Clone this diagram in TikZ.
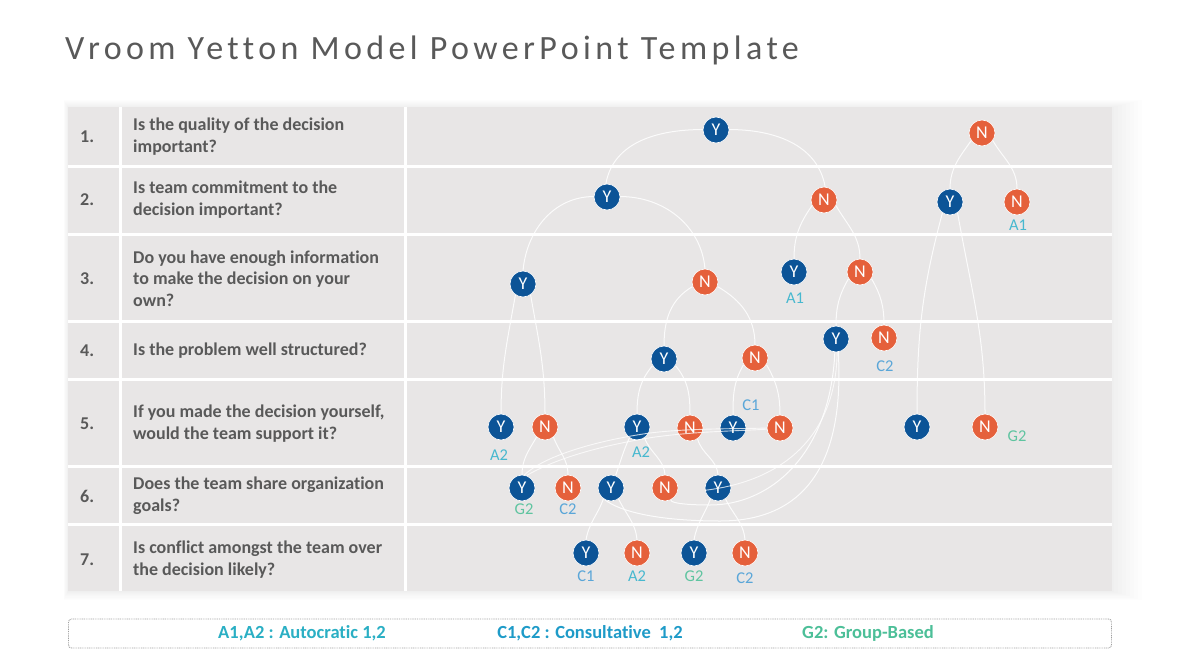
\documentclass[tikz,border=0pt]{standalone}
\usepackage{fontspec}
\setmainfont{Carlito}[Ligatures=NoCommon]
\newfontfamily\titlefont[LetterSpace=13,Ligatures=NoCommon]{Carlito}
\usetikzlibrary{calc}
\definecolor{tablebg}{HTML}{E8E6E6}
\definecolor{txtgray}{HTML}{595959}
\definecolor{ycol}{HTML}{0C5497}
\definecolor{ncol}{HTML}{E5603B}
\definecolor{acol}{HTML}{47B8CF}
\definecolor{ccol}{HTML}{5AA6D8}
\definecolor{gcol}{HTML}{5FC4A0}
\definecolor{leg1}{HTML}{2AAFC4}
\definecolor{leg2}{HTML}{1E9BC8}
\definecolor{leg3}{HTML}{4CBF98}
\tikzset{
  ynode/.style={circle,fill=ycol,draw=white,line width=0.6pt,minimum size=26pt,inner sep=0pt,text=white,font=\fontsize{18}{18}\selectfont},
  nnode/.style={circle,fill=ncol,draw=white,line width=0.6pt,minimum size=26pt,inner sep=0pt,text=white,font=\fontsize{18}{18}\selectfont},
  conn/.style={draw=white,line width=1pt,opacity=0.85},
  over/.style={draw=white,line width=0.9pt,opacity=0.75},
  qnum/.style={anchor=west,text=txtgray,font=\bfseries\fontsize{18}{21}\selectfont,inner sep=0pt},
  qtext/.style={anchor=west,align=left,text=txtgray,font=\bfseries\fontsize{18}{21.5}\selectfont,inner sep=0pt},
  lab/.style={font=\fontsize{16.5}{17}\selectfont,inner sep=0pt},
  legtext/.style={font=\bfseries\fontsize{18.5}{19}\selectfont,inner sep=0pt}
}
\begin{document}
\begin{tikzpicture}[x=1pt,y=1pt]
\useasboundingbox (0,0) rectangle (1180,-664);
\fill[white] (0,0) rectangle (1180,-664);
% title
\node[anchor=base west,inner sep=0pt,text=txtgray,font=\titlefont\fontsize{34}{34}\selectfont] (title) at (65,-59) {Vroom Yetton Model PowerPoint Template};
% shadow
\foreach \d in {30,26,...,2} {
  \fill[black,opacity=0.008] (68-\d*0.15,-107+\d*0.25) rectangle (1112+\d,-591-\d*0.3);
}
% table
\fill[tablebg] (68,-107) rectangle (1112,-591);
\foreach \yy in {166,234.5,321,379.5,466.5,524.5} {
  \draw[white,line width=3pt] (68,-\yy) -- (1112,-\yy);
}
\draw[white,line width=3pt] (120,-107) -- (120,-591);
\draw[white,line width=3pt] (405.5,-107) -- (405.5,-591);
% questions
\node[qnum] (n1) at (80,-137) {1.};
\node[qtext] (q1) at (133,-136.5) {Is the quality of the decision\\important?};
\node[qnum] (n2) at (80,-200) {2.};
\node[qtext] (q2) at (133,-199.5) {Is team commitment to the\\decision important?};
\node[qnum] (n3) at (80,-279) {3.};
\node[qtext] (q3) at (133,-278.5) {Do you have enough information\\to make the decision on your\\own?};
\node[qnum] (n4) at (80,-351) {4.};
\node[qtext] (q4) at (133,-351) {Is the problem well structured?};
\node[qnum] (n5) at (80,-424) {5.};
\node[qtext] (q5) at (133,-423.5) {If you made the decision yourself,\\would the team support it?};
\node[qnum] (n6) at (80,-496) {6.};
\node[qtext] (q6) at (133,-495.5) {Does the team share organization\\goals?};
\node[qnum] (n7) at (80,-560) {7.};
\node[qtext] (q7) at (133,-559.5) {Is conflict amongst the team over\\the decision likely?};
% coordinates of decision nodes
\coordinate (pY1) at (716,-130); \coordinate (pN1) at (982,-133);
\coordinate (pY2a) at (607,-197); \coordinate (pN2a) at (824,-200);
\coordinate (pY2b) at (950,-202); \coordinate (pN2b) at (1017,-202);
\coordinate (pY3a) at (523,-284); \coordinate (pN3a) at (705,-282);
\coordinate (pY3b) at (794,-272); \coordinate (pN3b) at (860,-272);
\coordinate (pY4a) at (664,-359); \coordinate (pN4a) at (755,-358);
\coordinate (pY4b) at (836,-339); \coordinate (pN4b) at (884,-338);
\coordinate (pY5a) at (501,-427); \coordinate (pN5a) at (545,-427);
\coordinate (pY5b) at (637,-427); \coordinate (pN5b) at (690,-428);
\coordinate (pY5c) at (733,-428); \coordinate (pN5c) at (780,-428);
\coordinate (pY5d) at (917,-427); \coordinate (pN5e) at (985,-427);
\coordinate (pY6a) at (522,-488); \coordinate (pN6a) at (568,-488);
\coordinate (pY6b) at (611,-488); \coordinate (pN6b) at (665,-488);
\coordinate (pY6c) at (718,-488);
\coordinate (pY7a) at (586,-553); \coordinate (pN7a) at (637,-553);
\coordinate (pY7b) at (694,-553); \coordinate (pN7b) at (745,-553);
% invisible anchors for routing
\foreach \nm in {Y1,N1,Y2a,N2a,Y2b,N2b,Y3a,N3a,Y3b,N3b,Y4a,N4a,Y4b,N4b,Y5a,N5a,Y5b,N5b,Y5c,N5c,Y5d,N5e,Y6a,N6a,Y6b,N6b,Y6c,Y7a,N7a,Y7b,N7b} {
  \node[circle,minimum size=26pt,inner sep=0pt] (\nm) at (p\nm) {};
}
% tree connectors
\draw[conn] (Y1.178) to[out=180,in=80] (Y2a.95);
\draw[conn] (Y1.2) to[out=0,in=100] (N2a.85);
\draw[conn] (N1.215) to[out=235,in=90] (Y2b.90);
\draw[conn] (N1.-35) to[out=-60,in=90] (N2b.90);
\draw[conn] (Y2a.178) to[out=180,in=85] (Y3a.90);
\draw[conn] (Y2a.2) to[out=0,in=95] (N3a.90);
\draw[conn] (N2a.205) to[out=235,in=90] (Y3b.90);
\draw[conn] (N2a.-25) to[out=-60,in=90] (N3b.90);
\draw[conn] (Y2b.235) to[out=255,in=90] (Y5d.90);
\draw[conn] (Y2b.-55) to[out=-80,in=90] (N5e.90);
\draw[conn] (Y3a.235) to[out=260,in=90] (Y5a.90);
\draw[conn] (Y3a.-55) to[out=-80,in=90] (N5a.90);
\draw[conn] (N3a.200) to[out=210,in=90] (Y4a.90);
\draw[conn] (N3a.-20) to[out=-30,in=90] (N4a.90);
\draw[conn] (N3b.210) to[out=240,in=90] (Y4b.90);
\draw[conn] (N3b.-30) to[out=-60,in=90] (N4b.90);
\draw[conn] (Y4a.210) to[out=230,in=90] (Y5b.90);
\draw[conn] (Y4a.-30) to[out=-50,in=90] (N5b.90);
\draw[conn] (N4a.210) to[out=240,in=90] (Y5c.90);
\draw[conn] (N4a.-30) to[out=-60,in=90] (N5c.90);
\draw[conn] (N5a.230) to[out=240,in=90] (Y6a.90);
\draw[conn] (N5a.-50) to[out=-70,in=90] (N6a.90);
\draw[conn] (Y5b.235) to[out=245,in=70] (Y6b.70);
\draw[conn] (Y5b.-55) to[out=-70,in=95] (N6b.90);
\draw[conn] (N5b.-55) to[out=-75,in=95] (Y6c.90);
\draw[conn] (Y6b.235) to[out=250,in=80] (Y7a.90);
\draw[conn] (Y6b.-55) to[out=-65,in=95] (N7a.90);
\draw[conn] (Y6c.235) to[out=250,in=80] (Y7b.90);
\draw[conn] (Y6c.-55) to[out=-65,in=95] (N7b.90);
% loops under row 6
\draw[conn] (Y4b.-80) .. controls (845,-470) and (800,-521) .. (720,-521) .. controls (660,-521) and (620,-512) .. (Y6b.240);
\draw[conn] (Y4b.-95) .. controls (830,-455) and (770,-505) .. (710,-505) .. controls (680,-505) and (668,-502) .. (N6b.-60);
% decision circles
\foreach \nm in {Y1,Y2a,Y2b,Y3a,Y3b,Y4a,Y4b,Y5a,Y5b,Y5c,Y5d,Y6a,Y6b,Y6c,Y7a,Y7b} {
  \node[ynode] at (p\nm) {Y};
}
\foreach \nm in {N1,N2a,N2b,N3a,N3b,N4a,N4b,N5a,N5b,N5c,N5e,N6a,N6b,N7a,N7b} {
  \node[nnode] at (p\nm) {N};
}
% crossing strands drawn over the circles
\draw[over] (N5c.180) .. controls (740,-429) and (690,-428) .. (650,-433) .. controls (600,-440) and (545,-455) .. (Y6a.80);
\draw[over] (N5c.185) .. controls (740,-431) and (700,-431) .. (655,-437) .. controls (610,-444) and (560,-456) .. (Y6a.70);
\draw[over] (Y4b.-85) .. controls (836,-430) and (790,-480) .. (Y6c.190);
% outcome labels
\node[lab,text=acol] (lA1a) at (1018,-225) {A1};
\node[lab,text=acol] (lA1b) at (795,-298) {A1};
\node[lab,text=ccol] (lC2a) at (885,-366) {C2};
\node[lab,text=acol] (lA2a) at (499,-455) {A2};
\node[lab,text=acol] (lA2b) at (641,-452) {A2};
\node[lab,text=ccol] (lC1a) at (751,-405) {C1};
\node[lab,text=gcol] (lG2a) at (1017,-436) {G2};
\node[lab,text=gcol] (lG2b) at (524,-509) {G2};
\node[lab,text=ccol] (lC2b) at (568,-509) {C2};
\node[lab,text=ccol] (lC1b) at (586,-576) {C1};
\node[lab,text=acol] (lA2c) at (637,-576) {A2};
\node[lab,text=gcol] (lG2c) at (694,-576) {G2};
\node[lab,text=ccol] (lC2c) at (745,-578) {C2};
% legend
\draw[gray!75,line width=0.9pt,dash pattern=on 0.9pt off 0.9pt,rounded corners=3pt] (68.5,-619) rectangle (1111.5,-648);
\node[legtext,text=leg1] (legA) at (302,-633) {A1,A2 : Autocratic 1,2};
\node[legtext,text=leg2] (legC) at (590,-633) {C1,C2 : Consultative\ \ 1,2};
\node[legtext,text=leg3] (legG) at (868,-633) {G2: Group-Based};
\end{tikzpicture}
\end{document}
